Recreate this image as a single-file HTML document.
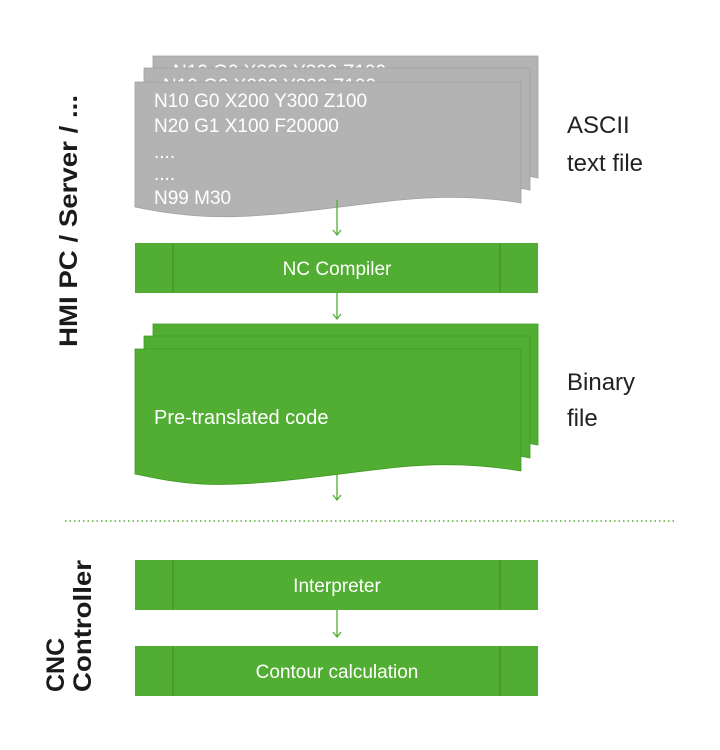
<!DOCTYPE html>
<html><head><meta charset="utf-8"><style>
html,body{margin:0;padding:0;background:#fff;}
svg{display:block;}
text{font-family:"Liberation Sans",Arial,sans-serif;}
</style></head><body>
<svg width="720" height="750" viewBox="0 0 720 750" xmlns="http://www.w3.org/2000/svg">
<path d="M153,56 H538 V178 C500,170 460,168 420,172 C360,178 300,188 153,180 Z" fill="#b3b3b3" stroke="#a0a0a0" stroke-width="0.8"/>
<text x="173" y="78" font-size="19" fill="#fff">N10 G0 X200 Y300 Z100</text>
<path d="M144,68 H530 V190 C490,182 450,180 410,184 C350,190 290,200 144,192 Z" fill="#b3b3b3" stroke="#a0a0a0" stroke-width="0.8"/>
<text x="163" y="92" font-size="19" fill="#fff">N10 G0 X200 Y300 Z100</text>
<path d="M135,82 H521 V203 C480,196 440,196 400,200 C330,207 260,220 200,216 C170,214 150,210 135,207 Z" fill="#b3b3b3" stroke="#a0a0a0" stroke-width="0.8"/>
<g font-size="19" fill="#fff">
<text x="154" y="107">N10 G0 X200 Y300 Z100</text>
<text x="154" y="132">N20 G1 X100 F20000</text>
<text x="154" y="158">....</text>
<text x="154" y="180">....</text>
<text x="154" y="204">N99 M30</text>
</g>
<g stroke="#52ad33" stroke-width="1.3" fill="none">
<line x1="337" y1="200" x2="337" y2="235"/><path d="M333,230 L337,235 L341,230"/>
<line x1="337" y1="293" x2="337" y2="319"/><path d="M333,314 L337,319 L341,314"/>
<line x1="337" y1="472" x2="337" y2="500"/><path d="M333,495 L337,500 L341,495"/>
<line x1="337" y1="610" x2="337" y2="637"/><path d="M333,632 L337,637 L341,632"/>
</g>
<rect x="135" y="243" width="403" height="50" fill="#52ad33"/>
<line x1="173" y1="243" x2="173" y2="293" stroke="#3c8d22" stroke-width="1"/>
<line x1="500" y1="243" x2="500" y2="293" stroke="#3c8d22" stroke-width="1"/>
<text x="337" y="275" font-size="19" fill="#fff" text-anchor="middle">NC Compiler</text>
<g fill="#52ad33" stroke="#3f9a25" stroke-width="0.8">
<path d="M153,324 H538 V445 C500,438 460,436 420,440 C360,446 300,454 153,448 Z"/>
<path d="M144,336 H530 V458 C490,450 450,448 410,452 C350,458 290,466 144,460 Z"/>
<path d="M135,349 H521 V471 C480,464 440,463 400,467 C330,474 260,487 200,484 C170,482 150,477 135,474 Z"/>
</g>
<text x="154" y="424" font-size="20" fill="#fff">Pre-translated code</text>
<line x1="65" y1="521" x2="676" y2="521" stroke="#52ad33" stroke-width="1.5" stroke-dasharray="1.5,3"/>
<rect x="135" y="560" width="403" height="50" fill="#52ad33"/>
<line x1="173" y1="560" x2="173" y2="610" stroke="#3c8d22"/>
<line x1="500" y1="560" x2="500" y2="610" stroke="#3c8d22"/>
<text x="337" y="592" font-size="19" fill="#fff" text-anchor="middle">Interpreter</text>
<rect x="135" y="646" width="403" height="50" fill="#52ad33"/>
<line x1="173" y1="646" x2="173" y2="696" stroke="#3c8d22"/>
<line x1="500" y1="646" x2="500" y2="696" stroke="#3c8d22"/>
<text x="337" y="678" font-size="19" fill="#fff" text-anchor="middle">Contour calculation</text>
<g font-size="24" fill="#222">
<text x="567" y="133">ASCII</text>
<text x="567" y="171">text file</text>
<text x="567" y="390">Binary</text>
<text x="567" y="426">file</text>
</g>
<g font-size="25" font-weight="bold" fill="#1a1a1a">
<text transform="translate(77,347) rotate(-90)" textLength="252" lengthAdjust="spacingAndGlyphs">HMI PC / Server / ...</text>
<text transform="translate(64,692) rotate(-90)">CNC</text>
<text transform="translate(91,692) rotate(-90)" textLength="132" lengthAdjust="spacingAndGlyphs">Controller</text>
</g>
</svg>
</body></html>
